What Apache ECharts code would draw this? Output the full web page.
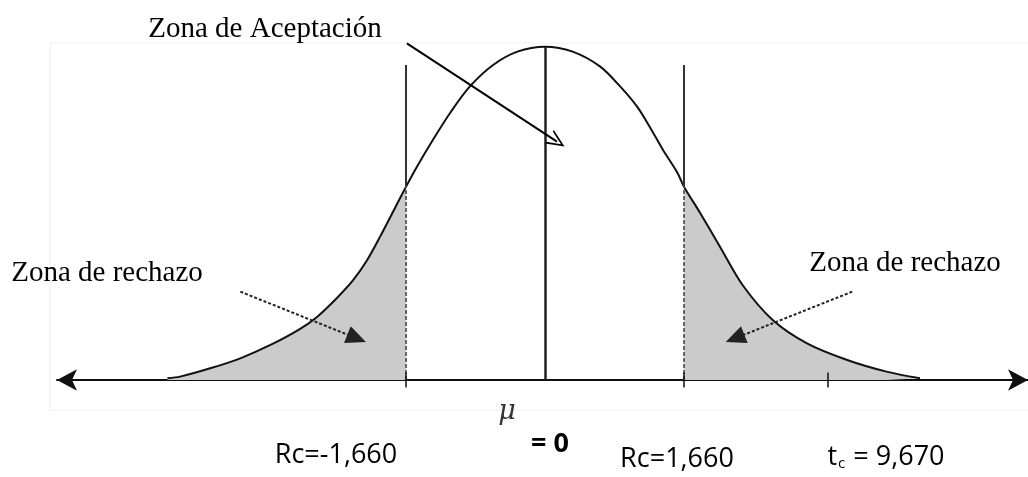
<!DOCTYPE html>
<html>
<head>
<meta charset="utf-8">
<script src="https://cdn.jsdelivr.net/npm/echarts@6/dist/echarts.min.js"></script>
<style>
  html, body { margin: 0; padding: 0; background: #fff; }
  #main { width: 1028px; height: 477px; }
</style>
</head>
<body>
<div id="main"></div>
<script>
// curve: t position and height of the density
var curveT = [-4.51, -4.36, -4.00, -3.64, -3.28, -2.93, -2.72, -2.48, -2.29, -2.13, -1.97, -1.82, -1.66,
  -1.53, -1.34, -1.13, -0.90, -0.62, -0.33, 0, 0.33, 0.66, 0.90, 1.10, 1.25, 1.41, 1.58, 1.66,
  1.85, 2.09, 2.36, 2.72, 3.13, 3.61, 4.08, 4.48];
var curveY = [0.002, 0.004, 0.014, 0.026, 0.042, 0.061, 0.076, 0.099, 0.120, 0.143, 0.172, 0.201, 0.232,
  0.256, 0.288, 0.321, 0.352, 0.378, 0.394, 0.400, 0.394, 0.376, 0.352, 0.328, 0.304, 0.276, 0.249, 0.232,
  0.201, 0.160, 0.114, 0.072, 0.044, 0.024, 0.010, 0.002];

var criticalValues = [-1.66, 1.66];      // Rc = -1,660 and Rc = 1,660
var tcPosition = 3.38;                   // where the t_c tick sits in the drawing
var critLineTop = 0.378;                 // top of the Rc vertical lines
var bottomLabels = ['Rc=-1,660', 'Rc=1,660'];

var curve = curveT.map(function (t, i) { return [t, curveY[i]]; });
var leftTail = curve.filter(function (p) { return p[0] <= criticalValues[0]; });
var rightTail = curve.filter(function (p) { return p[0] >= criticalValues[1]; });

function yAt(t) {
  var i = curveT.indexOf(t);
  return curveY[i];
}

var chevron = 'path://M0,0 L6,12 L4.6,12 L0,2.8 L-4.6,12 L-6,12 Z';

var myChart = echarts.init(document.getElementById('main'));

var vLines = [];
criticalValues.forEach(function (c) {
  // solid part above the curve
  vLines.push([{ coord: [c, yAt(c)], lineStyle: { type: 'solid', width: 2, color: '#333' } },
               { coord: [c, critLineTop] }]);
  // dotted part inside the shaded tail
  vLines.push([{ coord: [c, 0], lineStyle: { type: [4, 2], width: 2, color: '#666' } },
               { coord: [c, yAt(c)] }]);
});
// centre line
vLines.push([{ coord: [0, 0], lineStyle: { type: 'solid', width: 2.5, color: '#222' } }, { coord: [0, 0.4] }]);
// small ticks across the axis
criticalValues.concat([tcPosition]).forEach(function (c) {
  vLines.push([{ coord: [c, -0.009], lineStyle: { type: 'solid', width: 1.5, color: '#111' } }, { coord: [c, 0.009] }]);
});

// annotation arrows
var arrows = [
  [{ coord: [-1.65, 0.404], symbol: 'none', lineStyle: { width: 2, color: '#000', type: 'solid' } },
   { coord: [0.143, 0.286], symbol: chevron, symbolSize: [16, 18] }],
  [{ coord: [-3.64, 0.106], symbol: 'none', lineStyle: { width: 2, color: '#222', type: [3, 2] } },
   { coord: [-2.25, 0.050], symbol: 'triangle', symbolSize: [18, 20] }],
  [{ coord: [3.67, 0.106], symbol: 'none', lineStyle: { width: 2, color: '#222', type: [3, 2] } },
   { coord: [2.27, 0.050], symbol: 'triangle', symbolSize: [18, 20] }]
];

myChart.setOption({
  animation: false,
  grid: { left: 57, right: 0, top: 5, bottom: 13.7 },
  xAxis: {
    type: 'value',
    min: -5.83,
    max: 5.77,
    axisLine: {
      show: true,
      onZero: true,
      symbol: ['arrow', 'arrow'],
      symbolSize: [16, 20],
      lineStyle: { color: '#111', width: 2 }
    },
    axisTick: { show: false },
    axisLabel: { show: false },
    splitLine: { show: false }
  },
  yAxis: {
    type: 'value',
    min: -0.1,
    max: 0.45,
    show: false
  },
  series: [
    {
      type: 'line',
      data: leftTail,
      smooth: 0.3,
      symbol: 'none',
      lineStyle: { width: 0 },
      areaStyle: { color: '#cbcbcb', opacity: 1 },
      z: 1
    },
    {
      type: 'line',
      data: rightTail,
      smooth: 0.3,
      symbol: 'none',
      lineStyle: { width: 0 },
      areaStyle: { color: '#cbcbcb', opacity: 1 },
      z: 1
    },
    {
      type: 'line',
      data: curve,
      smooth: 0.3,
      symbol: 'none',
      lineStyle: { color: '#111', width: 2 },
      z: 3,
      markLine: {
        silent: true,
        symbol: ['none', 'none'],
        label: { show: false },
        lineStyle: { color: '#222' },
        data: vLines.concat(arrows)
      }
    }
  ],
  graphic: [
    { type: 'rect', shape: { x: 50, y: 43, width: 1000, height: 367 }, style: { fill: null, stroke: '#f0f0f0', lineWidth: 1 }, z: -1 },
    { type: 'text', x: 265, y: 29, style: { text: 'Zona de Aceptación', font: '29px "Liberation Serif"', fill: '#000', align: 'center', verticalAlign: 'middle' } },
    { type: 'text', x: 107, y: 273, style: { text: 'Zona de rechazo', font: '29px "Liberation Serif"', fill: '#000', align: 'center', verticalAlign: 'middle' } },
    { type: 'text', x: 905, y: 263, style: { text: 'Zona de rechazo', font: '29px "Liberation Serif"', fill: '#000', align: 'center', verticalAlign: 'middle' } },
    { type: 'text', x: 507, y: 412, style: { text: 'μ', font: 'italic 27px "DejaVu Serif"', fill: '#333', align: 'center', verticalAlign: 'middle' } },
    { type: 'text', x: 550, y: 444, style: { text: '= 0', font: 'bold 27px "Open Sans"', fill: '#000', align: 'center', verticalAlign: 'middle' } },
    { type: 'text', x: 336, y: 455, style: { text: bottomLabels[0], font: '27px "Open Sans"', fill: '#000', align: 'center', verticalAlign: 'middle' } },
    { type: 'text', x: 677, y: 459, style: { text: bottomLabels[1], font: '27px "Open Sans"', fill: '#000', align: 'center', verticalAlign: 'middle' } },
    { type: 'text', x: 886, y: 455, style: {
        text: '{a|t}{b|c}{a| = 9,670}', align: 'center', verticalAlign: 'middle',
        rich: {
          a: { font: '27px "Open Sans"', fill: '#000', lineHeight: 32, verticalAlign: 'bottom' },
          b: { font: '15px "Open Sans"', fill: '#000', lineHeight: 32, verticalAlign: 'bottom', padding: [0, 1, 0, 1] }
        }
      } }
  ]
});
</script>
</body>
</html>
